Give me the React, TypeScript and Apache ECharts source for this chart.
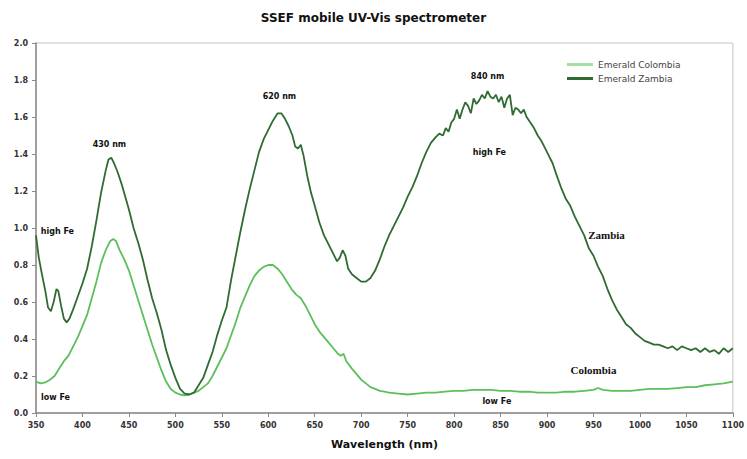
import React, { useEffect, useRef } from "react";
import * as echarts from "echarts";

const xTicks = { min: 350, max: 1100, interval: 50 };
const yTicks = { min: 0, max: 2, interval: 0.2 };

const zambiaNm = [350,353,356,360,363,366,369,372,374,377,380,383,386,390,395,400,405,410,415,420,425,428,431,434,438,442,446,450,455,460,465,470,475,480,485,490,495,500,505,510,515,520,525,530,535,540,545,550,555,560,565,570,575,580,585,590,595,600,605,610,614,618,622,626,629,632,635,638,642,646,650,655,660,665,670,674,677,680,683,686,690,695,700,705,710,715,720,725,730,735,740,745,750,755,760,765,770,775,780,784,788,791,794,797,800,803,806,809,812,815,818,821,824,827,830,833,836,839,842,845,848,851,854,857,860,863,866,869,872,875,878,882,886,890,894,898,902,906,910,915,920,925,930,935,940,945,950,955,960,965,970,975,980,985,990,995,1000,1005,1010,1015,1020,1025,1030,1035,1040,1045,1050,1055,1060,1065,1070,1075,1080,1085,1090,1095,1100];
const zambiaVal = [0.96,0.84,0.76,0.66,0.57,0.55,0.60,0.67,0.66,0.58,0.51,0.49,0.51,0.56,0.63,0.70,0.78,0.90,1.04,1.19,1.31,1.37,1.38,1.35,1.30,1.24,1.17,1.10,1.00,0.92,0.83,0.72,0.62,0.54,0.45,0.34,0.26,0.19,0.13,0.105,0.10,0.11,0.15,0.19,0.26,0.33,0.42,0.50,0.57,0.72,0.85,0.98,1.10,1.21,1.31,1.41,1.48,1.53,1.58,1.62,1.62,1.59,1.55,1.50,1.44,1.43,1.45,1.39,1.28,1.19,1.12,1.03,0.96,0.91,0.86,0.82,0.84,0.88,0.85,0.78,0.75,0.73,0.71,0.71,0.73,0.77,0.83,0.90,0.96,1.01,1.06,1.11,1.17,1.22,1.28,1.35,1.41,1.46,1.49,1.51,1.50,1.54,1.52,1.57,1.59,1.64,1.59,1.64,1.68,1.66,1.62,1.70,1.67,1.69,1.72,1.70,1.74,1.71,1.70,1.72,1.68,1.71,1.65,1.70,1.72,1.61,1.65,1.64,1.62,1.64,1.60,1.57,1.54,1.50,1.47,1.43,1.39,1.35,1.29,1.22,1.16,1.12,1.06,1.01,0.96,0.89,0.85,0.79,0.74,0.67,0.61,0.56,0.52,0.48,0.46,0.43,0.41,0.39,0.38,0.37,0.37,0.36,0.35,0.36,0.34,0.36,0.35,0.34,0.35,0.33,0.35,0.33,0.34,0.32,0.35,0.33,0.35];

const colombiaNm = [350,355,360,365,370,375,380,385,390,395,400,405,410,415,420,425,430,433,436,440,445,450,455,460,465,470,475,480,485,490,495,500,505,510,515,520,525,530,535,540,545,550,555,560,565,570,575,580,585,590,595,600,605,610,615,620,625,630,635,640,645,650,655,660,665,670,675,678,681,684,690,695,700,705,710,715,720,725,730,740,750,760,770,780,790,800,810,820,830,840,850,860,870,880,890,900,910,920,930,940,950,955,960,970,980,990,1000,1010,1020,1030,1040,1050,1060,1070,1080,1090,1100];
const colombiaVal = [0.17,0.16,0.165,0.18,0.20,0.24,0.28,0.31,0.36,0.41,0.47,0.53,0.62,0.71,0.81,0.88,0.93,0.94,0.93,0.88,0.83,0.77,0.69,0.61,0.53,0.45,0.37,0.30,0.23,0.17,0.13,0.11,0.10,0.095,0.10,0.11,0.12,0.14,0.16,0.20,0.25,0.30,0.35,0.42,0.49,0.57,0.63,0.69,0.74,0.77,0.79,0.80,0.80,0.78,0.75,0.71,0.67,0.64,0.62,0.58,0.53,0.48,0.44,0.41,0.38,0.35,0.32,0.31,0.32,0.28,0.24,0.21,0.18,0.16,0.14,0.13,0.12,0.115,0.11,0.105,0.10,0.105,0.11,0.11,0.115,0.12,0.12,0.125,0.125,0.125,0.12,0.12,0.115,0.115,0.11,0.11,0.11,0.115,0.115,0.12,0.125,0.135,0.125,0.12,0.12,0.12,0.125,0.13,0.13,0.13,0.135,0.14,0.14,0.15,0.155,0.16,0.17];

const annotTexts = ["430 nm", "620 nm", "840 nm", "high Fe", "high Fe", "Zambia", "Colombia", "low Fe", "low Fe"];
const annotNm = [429, 612, 836, 373, 838, 964, 950, 371, 846];
const annotVal = [1.45, 1.71, 1.82, 0.98, 1.41, 0.96, 0.23, 0.085, 0.06];
const annotSerif = [false, false, false, false, false, true, true, false, false];

const seriesNames = ["Emerald Colombia", "Emerald Zambia"];
const titleText = "SSEF mobile UV-Vis spectrometer";
const xName = "Wavelength (nm)";

export default function App() {
  const ref = useRef<HTMLDivElement>(null);
  useEffect(() => {
    if (!ref.current) return;
    const chart = echarts.init(ref.current, null, { renderer: "svg" });
    const zip = (a: number[], b: number[]) => a.map((v, i) => [v, b[i]]);
    const font = "'DejaVu Sans', Verdana, sans-serif";
    chart.setOption({
      animation: false,
      backgroundColor: "#ffffff",
      textStyle: { fontFamily: font },
      title: {
        text: titleText,
        left: "center",
        top: 7,
        textStyle: { fontSize: 12, fontWeight: "bold", color: "#111", fontFamily: font },
      },
      legend: {
        orient: "vertical",
        left: 562,
        top: 55,
        itemWidth: 26,
        itemHeight: 3,
        itemGap: 5,
        icon: "rect",
        textStyle: { fontSize: 9, color: "#444", fontFamily: font },
        data: [
          { name: seriesNames[0], itemStyle: { color: "#a6dfa6" } },
          { name: seriesNames[1], itemStyle: { color: "#2f6b32" } },
        ],
      },
      grid: {
        left: 36,
        right: 14,
        top: 43,
        bottom: 46,
        show: true,
        borderColor: "#c4c4c4",
        borderWidth: 1,
      },
      xAxis: {
        type: "value",
        min: xTicks.min,
        max: xTicks.max,
        interval: xTicks.interval,
        name: xName,
        nameLocation: "middle",
        nameGap: 26,
        nameTextStyle: { fontSize: 11, fontWeight: "bold", color: "#111" },
        axisLine: { lineStyle: { color: "#888", width: 1.5 } },
        axisTick: { length: 4, lineStyle: { color: "#888" } },
        axisLabel: { fontSize: 8, fontWeight: "bold", color: "#333", margin: 8, formatter: (v: number) => String(v) },
        splitLine: { show: false },
      },
      yAxis: {
        type: "value",
        min: yTicks.min,
        max: yTicks.max,
        interval: yTicks.interval,
        axisLine: { show: true, lineStyle: { color: "#888", width: 1.5 } },
        axisTick: { show: true, length: 4, lineStyle: { color: "#888" } },
        axisLabel: { fontSize: 8, fontWeight: "bold", color: "#333", margin: 8, formatter: (v: number) => v.toFixed(1) },
        splitLine: { show: false },
      },
      series: [
        {
          name: seriesNames[0],
          type: "line",
          data: zip(colombiaNm, colombiaVal),
          showSymbol: false,
          symbol: "none",
          lineStyle: { color: "#5cbf5c", width: 1.8 },
          itemStyle: { color: "#5cbf5c" },
        },
        {
          name: seriesNames[1],
          type: "line",
          data: zip(zambiaNm, zambiaVal),
          showSymbol: false,
          symbol: "none",
          lineStyle: { color: "#2f6b32", width: 1.8 },
          itemStyle: { color: "#2f6b32" },
          markPoint: {
            symbol: "circle",
            symbolSize: 0,
            silent: true,
            data: annotTexts.map((t, i) => ({
              coord: [annotNm[i], annotVal[i]],
              value: t,
              label: {
                show: true,
                position: "inside",
                formatter: t,
                color: "#111",
                fontSize: annotSerif[i] ? 11 : 8,
                fontWeight: "bold",
                fontFamily: annotSerif[i] ? "'Liberation Serif', serif" : font,
              },
            })),
          },
        },
      ],
    });
    return () => chart.dispose();
  }, []);
  return <div ref={ref} style={{ width: 747, height: 459, position: "absolute", left: 0, top: 0 }} />;
}
